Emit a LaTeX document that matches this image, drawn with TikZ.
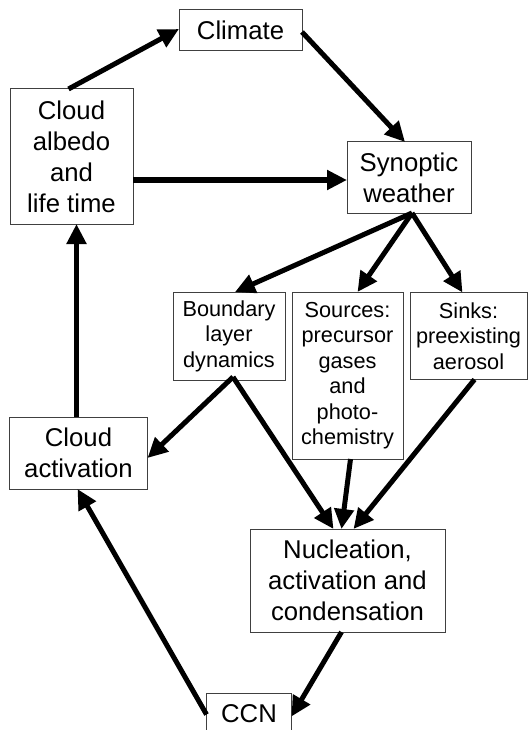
\documentclass[tikz,border=0pt]{standalone}
\usepackage{fontspec}
\setmainfont{Liberation Sans}
\usetikzlibrary{arrows.meta}
\begin{document}
\begin{tikzpicture}[x=1pt,y=-1pt,
  box/.style={draw=black!75, line width=1pt, fill=white, align=center, inner sep=0pt, outer sep=0pt},
  big/.style={box, font=\fontsize{25.7}{31}\selectfont},
  small/.style={box, font=\fontsize{21.7}{25.5}\selectfont},
  conn/.style={line width=5pt, -{Triangle[length=20pt,width=19pt]}}]
\useasboundingbox (0,0) rectangle (528,730);
\clip (0,0) rectangle (528,730);
\node[big, minimum width=123pt, minimum height=41pt] (climate) at (240.5,30.5) {Climate};
\node[big, minimum width=123pt, minimum height=135pt] (albedo) at (71.5,156.5) {Cloud\\albedo\\and\\life time};
\node[big, minimum width=124pt, minimum height=71pt] (synoptic) at (409,177.5) {Synoptic\\weather};
\node[small, minimum width=112pt, minimum height=88pt] (boundary) at (229,336) {Boundary\\layer\\dynamics};
\node[small, minimum width=111pt, minimum height=167pt] (sources) at (347.5,375.5) {Sources:\\precursor\\gases\\and\\photo-\\chemistry};
\node[small, minimum width=117pt, minimum height=87pt] (sinks) at (468.5,336) {Sinks:\\preexisting\\aerosol};
\node[big, minimum width=138pt, minimum height=72pt] (activation) at (78.5,453) {Cloud\\activation};
\node[big, minimum width=195pt, minimum height=103pt] (nucleation) at (347.5,580.5) {Nucleation,\\activation and\\condensation};
\node[big, minimum width=85pt, minimum height=41pt] (ccn) at (249,713.5) {CCN};

\draw[conn] ([xshift=-3pt]albedo.north) -- ([yshift=1.5pt]climate.west);
\draw[conn] ([yshift=-1.5pt]climate.east) -- ([xshift=-4pt]synoptic.north);
\draw[conn] ([yshift=-2.5pt]albedo.east |- synoptic.west) -- ([yshift=-2.5pt]synoptic.west);
\draw[conn] ([xshift=3pt]synoptic.south) -- ([xshift=6pt]boundary.north);
\draw[conn] ([xshift=3pt]synoptic.south) -- ([xshift=10pt]sources.north);
\draw[conn] ([xshift=3pt]synoptic.south) -- ([xshift=-6pt]sinks.north);
\draw[conn] ([xshift=4pt,yshift=3pt]boundary.south) -- ([yshift=-5pt]activation.east);
\draw[conn] ([xshift=4pt,yshift=3pt]boundary.south) -- ([xshift=-14pt]nucleation.north);
\draw[conn] ([xshift=3pt]sources.south) -- ([xshift=-6pt]nucleation.north);
\draw[conn] ([xshift=6pt]sinks.south) -- ([xshift=6pt]nucleation.north);
\draw[conn] ([xshift=-6pt]nucleation.south) -- ([yshift=-3pt]ccn.east);
\draw[conn] ([yshift=-1pt]ccn.west) -- ([xshift=-1pt]activation.south);
\draw[conn] ([xshift=-2pt]activation.north) -- ([xshift=-2pt]activation.north |- albedo.south);
\end{tikzpicture}
\end{document}
